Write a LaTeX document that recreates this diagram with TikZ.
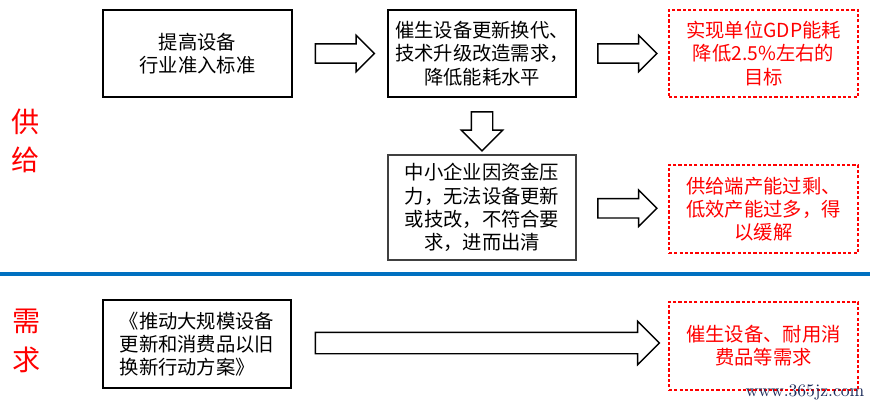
\documentclass[tikz,border=0pt]{standalone}
\usepackage{fontspec}
\usepackage{xcolor}
\usepackage{tikz}
\usetikzlibrary{positioning, calc, shapes.arrows}
\newfontfamily\cjk{Noto Sans CJK SC}
\definecolor{sepblue}{RGB}{0,112,192}
\definecolor{goalred}{RGB}{255,0,0}
\definecolor{markc}{RGB}{27,42,89}

\begin{document}
\begin{tikzpicture}[x=0.02cm, y=-0.02cm,
  box/.style={draw=black, line width=0.8pt, inner sep=0pt, align=center,
    font=\cjk\fontsize{11}{13.2}\selectfont},
  goal/.style={box, draw=goalred, text=goalred, dashed, dash pattern=on 1.8pt off 1.2pt},
  blockarr/.style={single arrow, draw=black, line width=0.8pt, fill=white,
    inner xsep=0pt, inner ysep=0.18cm, single arrow head extend=0.17cm,
    single arrow tip angle=90},
  side/.style={text=goalred, font=\cjk\fontsize{16}{22}\selectfont, align=center}]
  \useasboundingbox (0,0) rectangle (870,406);

  \node[box, minimum width=3.78cm, minimum height=1.74cm] (tigao) at (197.5,53.5)
    {提高设备\\行业准入标准};
  \node[box, minimum width=3.76cm, minimum height=1.74cm] (cuisheng) at (482,53.5)
    {催生设备更新换代、\\技术升级改造需求，\\降低能耗水平};
  \node[goal, minimum width=3.78cm, minimum height=1.74cm] (mubiao) at (763.5,53.5)
    {实现单位GDP能耗\\降低2.5\%左右的\\目标};
  \node[box, draw=black!75, minimum width=3.76cm, minimum height=2.1cm] (zhongxiao) at (482,207.5)
    {中小企业因资金压\\力，无法设备更新\\或技改，不符合要\\求，进而出清};
  \node[goal, minimum width=3.78cm, minimum height=1.76cm] (chanen) at (763.5,209)
    {供给端产能过剩、\\低效产能过多，得\\以缓解};

  \node[blockarr, minimum height=1.18cm] (ar1) at ($(tigao.east)!0.5!(cuisheng.west)$) {};
  \node[blockarr, minimum height=1.18cm] (ar2) at ($(cuisheng.east)!0.5!(mubiao.west)$) {};
  \node[blockarr, minimum height=0.78cm, inner sep=0.2cm, single arrow head extend=0.2cm,
    shape border rotate=270] (ar3) at ($(cuisheng.south)!0.5!(zhongxiao.north)$) {};
  \node[blockarr, minimum height=1.18cm] (ar4) at ($(zhongxiao.east)!0.5!(chanen.west)$) {};

  \draw[sepblue, line width=2.4pt] (0,274) -- (870,274);

  \node[box, align=left, minimum width=3.76cm, minimum height=1.76cm] (fangan) at (197,344)
    {《推动大规模设备\\更新和消费品以旧\\换新行动方案》};
  \node[goal, minimum width=3.78cm, minimum height=1.76cm] (xuqiu) at (763.5,346)
    {催生设备、耐用消\\费品等需求};
  \node[blockarr, minimum height=6.88cm, inner ysep=0.2cm, single arrow head extend=0.22cm]
    (ar5) at ($(fangan.east)!0.5!(xuqiu.west)+(2,-2)$) {};

  \node[side] (gong) at (26,141) {供\\给};
  \node[side] (xu) at (27,341) {需\\求};
  \node[text=markc, font=\fontsize{10}{12}\selectfont, inner sep=0pt] (mark) at (805,392)
    {www.365jz.com};
\end{tikzpicture}
\end{document}
